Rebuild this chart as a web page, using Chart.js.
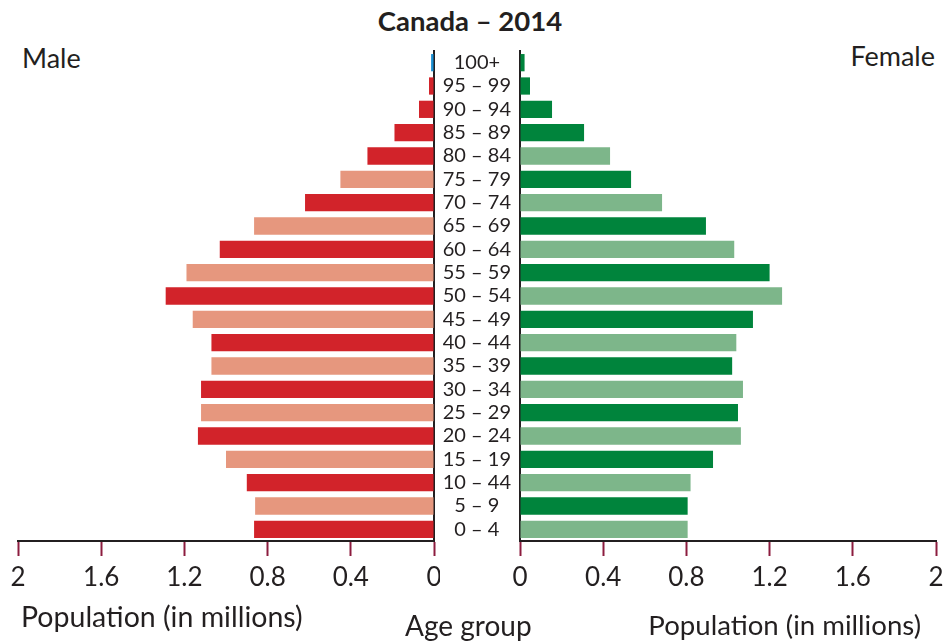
<!DOCTYPE html>
<html>
<head>
<meta charset="utf-8">
<script src="https://cdn.jsdelivr.net/npm/chart.js@4.4.1/dist/chart.umd.min.js"></script>
<style>
  body { margin: 0; background: #fff; font-family: Lato, sans-serif; color: #231f20; }
  #wrap { position: relative; width: 945px; height: 641px; overflow: hidden; }
  .cv { position: absolute; top: 0; }
  .txt { position: absolute; white-space: nowrap; line-height: 1; }
</style>
</head>
<body>
<div id="wrap">
  <div class="txt" id="title" style="left:0;width:940px;text-align:center;top:7px;font-weight:bold;font-size:27.5px;">Canada – 2014</div>
  <div class="txt" style="left:22px;top:44px;font-size:27px;">Male</div>
  <div class="txt" style="right:10px;top:42px;font-size:27px;">Female</div>
  <div class="cv" style="left:0;width:440px;height:601px;"><canvas id="maleChart"></canvas></div>
  <div class="cv" style="left:400px;width:555px;height:601px;"><canvas id="femaleChart"></canvas></div>
  <div class="txt" style="left:21px;top:602px;font-size:28.5px;">Population (in millions)</div>
  <div class="txt" style="left:405px;top:611px;font-size:28px;">Age group</div>
  <div class="txt" style="right:24px;top:611px;font-size:27.6px;">Population (in millions)</div>
</div>
<script>
// age groups, bottom to top (label "10 – 44" kept as printed)
const ageGroups = ['0 – 4', '5 – 9', '10 – 44', '15 – 19', '20 – 24', '25 – 29', '30 – 34',
    '35 – 39', '40 – 44', '45 – 49', '50 – 54', '55 – 59', '60 – 64', '65 – 69',
    '70 – 74', '75 – 79', '80 – 84', '85 – 89', '90 – 94', '95 – 99', '100+'];

// population in millions
const male = [0.865, 0.86, 0.90, 1.00, 1.135, 1.12, 1.12, 1.07, 1.07, 1.16, 1.29,
    1.19, 1.03, 0.865, 0.62, 0.45, 0.32, 0.19, 0.072, 0.024, 0.014];
const female = [0.806, 0.806, 0.82, 0.928, 1.062, 1.048, 1.072, 1.02, 1.04, 1.12, 1.26,
    1.20, 1.03, 0.894, 0.683, 0.534, 0.433, 0.308, 0.154, 0.048, 0.022];

const xTicks = [0, 0.4, 0.8, 1.2, 1.6, 2];

// bar shading
const maleLightRows = [1, 3, 5, 7, 9, 11, 13, 15];
const femaleLightRows = [0, 2, 4, 6, 8, 10, 12, 14, 16];

const maleColors = ageGroups.map(function (g, i) {
    if (i === ageGroups.length - 1) return '#1b8fd2';
    return maleLightRows.includes(i) ? '#e6977e' : '#d2232a';
});
const femaleColors = ageGroups.map(function (g, i) {
    return femaleLightRows.includes(i) ? '#7db68a' : '#00843c';
});

const ink = '#231f20';
const tickRed = '#8c1c3f';

function xScale(reverse) {
    return {
        type: 'linear',
        min: 0,
        max: 2,
        reverse: reverse,
        afterBuildTicks: function (s) { s.ticks = xTicks.map(v => ({ value: v })); },
        afterFit: function (s) { s.height = 60; },
        grid: { drawOnChartArea: false, drawTicks: true, tickLength: 15, tickWidth: 2, tickColor: tickRed },
        border: { display: true, color: ink, width: 2 },
        ticks: {
            color: ink,
            padding: 6,
            font: { family: 'Lato', size: 26 },
            callback: function (v) { return String(v); }
        }
    };
}

new Chart(document.getElementById('maleChart'), {
    type: 'bar',
    data: {
        labels: ageGroups,
        datasets: [{ data: male, backgroundColor: maleColors, barPercentage: 0.74, categoryPercentage: 1 }]
    },
    options: {
        indexAxis: 'y',
        responsive: true,
        maintainAspectRatio: false,
        animation: false,
        layout: { padding: { top: 51, left: 18, right: 6, bottom: 0 } },
        plugins: { legend: { display: false }, tooltip: { enabled: false } },
        scales: {
            x: xScale(true),
            y: {
                position: 'right',
                reverse: true,
                z: 1,
                afterFit: function (s) { s.width = 0; },
                grid: { display: false },
                border: { display: true, color: ink, width: 2 },
                ticks: { display: false }
            }
        }
    }
});

new Chart(document.getElementById('femaleChart'), {
    type: 'bar',
    data: {
        labels: ageGroups,
        datasets: [{ data: female, backgroundColor: femaleColors, barPercentage: 0.74, categoryPercentage: 1 }]
    },
    options: {
        indexAxis: 'y',
        responsive: true,
        maintainAspectRatio: false,
        animation: false,
        layout: { padding: { top: 51, left: 0, right: 19, bottom: 0 } },
        plugins: { legend: { display: false }, tooltip: { enabled: false } },
        scales: {
            x: xScale(false),
            y: {
                position: 'left',
                reverse: true,
                z: 1,
                afterFit: function (s) { s.width = 120; },
                grid: { display: false },
                border: { display: true, color: ink, width: 2 },
                ticks: {
                    autoSkip: false,
                    crossAlign: 'center',
                    padding: 1,
                    color: ink,
                    font: { family: 'Lato', size: 20 }
                }
            }
        }
    }
});
</script>
</body>
</html>
